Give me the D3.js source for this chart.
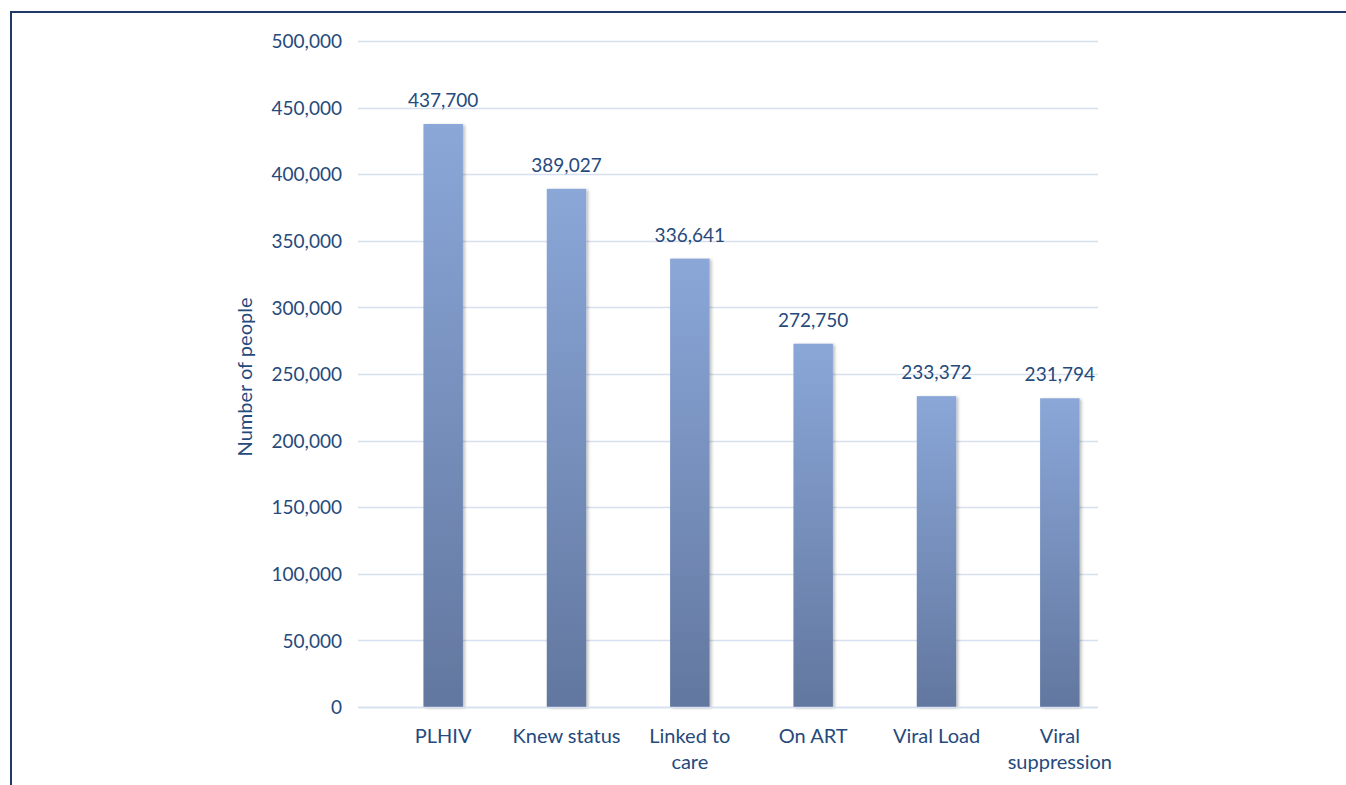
<!DOCTYPE html>
<meta charset="utf-8">
<style>
body { margin: 0; background: #fff; }
svg text { font-family: Lato, "Open Sans", sans-serif; fill: #264a7c; }
</style>
<body>
<script src="https://cdn.jsdelivr.net/npm/d3@7"></script>
<script>

// data
var categories = ["PLHIV", "Knew status", "Linked to care", "On ART", "Viral Load", "Viral suppression"];
var labelLines = [["PLHIV"], ["Knew status"], ["Linked to", "care"], ["On ART"], ["Viral Load"], ["Viral", "suppression"]];
var values = [437700, 389027, 336641, 272750, 233372, 231794];
var yTicks = [0, 50000, 100000, 150000, 200000, 250000, 300000, 350000, 400000, 450000, 500000];

var width = 1346, height = 785;

var svg = d3.select("body").append("svg")
    .attr("width", width)
    .attr("height", height);

var defs = svg.append("defs");
var grad = defs.append("linearGradient")
    .attr("id", "barGrad")
    .attr("x1", 0).attr("y1", 0).attr("x2", 0).attr("y2", 1);
grad.append("stop").attr("offset", "0%").attr("stop-color", "#8aa7d8");
grad.append("stop").attr("offset", "100%").attr("stop-color", "#62779f");

var shadow = defs.append("filter").attr("id", "shadow")
    .attr("x", "-20%").attr("y", "-5%").attr("width", "150%").attr("height", "115%");
shadow.append("feDropShadow")
    .attr("dx", 2).attr("dy", 1)
    .attr("stdDeviation", 1.5)
    .attr("flood-color", "#000")
    .attr("flood-opacity", 0.25);

// frame border (top and left)
svg.append("path")
    .attr("d", "M11,785V12H1346")
    .attr("fill", "none")
    .attr("stroke", "#1f3864")
    .attr("stroke-width", 2);

var y = d3.scaleLinear()
    .domain([0, 500000])
    .range([707, 41]);

var x = d3.scaleBand()
    .domain(categories)
    .range([381.5, 1121.5])
    .paddingInner(0.68)
    .paddingOuter(0.34);

var gridX0 = 358, gridX1 = 1098;
var fmt = d3.format(",");

// gridlines
svg.append("g")
    .selectAll("line")
    .data(yTicks)
  .enter().append("line")
    .attr("x1", gridX0)
    .attr("x2", gridX1)
    .attr("y1", function(d) { return Math.round(y(d)) + 0.5; })
    .attr("y2", function(d) { return Math.round(y(d)) + 0.5; })
    .attr("stroke", "#d5e0f0")
    .attr("stroke-width", 1.5);

// y axis labels
var yAxis = d3.axisLeft(y)
    .tickValues(yTicks)
    .tickFormat(fmt)
    .tickSize(0)
    .tickPadding(0);

var gy = svg.append("g")
    .attr("transform", "translate(342,0)")
    .call(yAxis);
gy.select(".domain").remove();
gy.selectAll("text")
    .style("font-size", "19px")
    .attr("fill", "#264a7c")
    .attr("dy", "0.35em");

// y axis title
svg.append("text")
    .attr("transform", "translate(252,377) rotate(-90)")
    .attr("text-anchor", "middle")
    .style("font-size", "20px")
    .text("Number of people");

// bars
svg.append("g")
    .selectAll("rect")
    .data(values)
  .enter().append("rect")
    .attr("x", function(d, i) { return x(categories[i]); })
    .attr("y", function(d) { return y(d); })
    .attr("width", x.bandwidth())
    .attr("height", function(d) { return y(0) - y(d); })
    .attr("fill", "url(#barGrad)")
    .attr("filter", "url(#shadow)");

// redraw baseline over bars
svg.append("line")
    .attr("x1", gridX0).attr("x2", gridX1)
    .attr("y1", Math.round(y(0)) + 0.5).attr("y2", Math.round(y(0)) + 0.5)
    .attr("stroke", "#d5e0f0")
    .attr("stroke-width", 1.5);

// value labels
svg.append("g")
    .selectAll("text")
    .data(values)
  .enter().append("text")
    .attr("x", function(d, i) { return x(categories[i]) + x.bandwidth() / 2; })
    .attr("y", function(d) { return y(d) - 17; })
    .attr("text-anchor", "middle")
    .style("font-size", "19px")
    .text(function(d) { return fmt(d); });

// category labels
var cat = svg.append("g")
    .selectAll("text")
    .data(labelLines)
  .enter().append("text")
    .attr("text-anchor", "middle")
    .style("font-size", "20px")
    .attr("transform", function(d, i) {
        return "translate(" + (x(categories[i]) + x.bandwidth() / 2) + ",743)";
    });

cat.selectAll("tspan")
    .data(function(d) { return d; })
  .enter().append("tspan")
    .attr("x", 0)
    .attr("dy", function(d, i) { return i === 0 ? 0 : 26; })
    .text(function(d) { return d; });

</script>
</body>
